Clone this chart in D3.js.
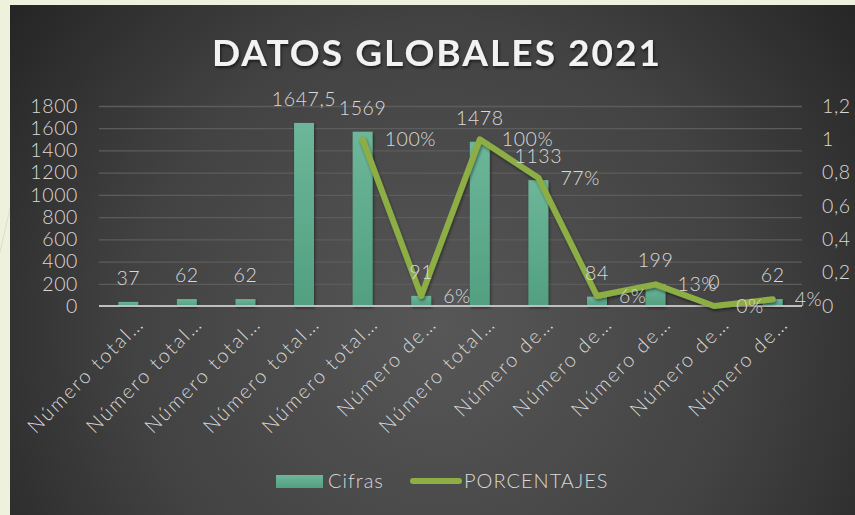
<!DOCTYPE html>
<html>
<head>
<meta charset="utf-8">
<script src="https://cdn.jsdelivr.net/npm/d3@7"></script>
<style>
  html, body { margin: 0; padding: 0; background: #eef2dc; }
  svg { display: block; }
  text { font-family: "Lato", "Open Sans", sans-serif; }
</style>
</head>
<body>
<svg id="chart" width="855" height="515"></svg>
<script>
// ---- data ----
const categories = ["Número total…", "Número total…", "Número total…", "Número total…", "Número total…",
                    "Número de…", "Número total…", "Número de…", "Número de…", "Número de…", "Número de…", "Número de…"];
const cifras = [37, 62, 62, 1647.5, 1569, 91, 1478, 1133, 84, 199, 0, 62];
const porcentajes = [null, null, null, null, 1.00, 0.06, 1.00, 0.77, 0.06, 0.13, 0.00, 0.04];
const leftTicks = [0, 200, 400, 600, 800, 1000, 1200, 1400, 1600, 1800];
const rightTicks = [0, 0.2, 0.4, 0.6, 0.8, 1, 1.2];
const titleText = "DATOS GLOBALES 2021";
const seriesNames = ["Cifras", "PORCENTAJES"];

const svg = d3.select("#chart");
const W = 855, H = 515;
const es = d3.formatLocale({decimal: ",", thousands: "", grouping: [3], currency: ["", "€"]});
const fmtNum = es.format("~r");
const fmtAxisR = es.format("~g");
const fmtPct = d3.format(".0%");

const defs = svg.append("defs");
const bgGrad = defs.append("radialGradient").attr("id", "bg")
  .attr("gradientUnits", "userSpaceOnUse").attr("cx", 440).attr("cy", 330).attr("r", 560);
bgGrad.append("stop").attr("offset", 0).attr("stop-color", "#575757");
bgGrad.append("stop").attr("offset", 0.55).attr("stop-color", "#424242");
bgGrad.append("stop").attr("offset", 1).attr("stop-color", "#222222");
const barGrad = defs.append("linearGradient").attr("id", "barg").attr("x1", 0).attr("y1", 0).attr("x2", 0).attr("y2", 1);
barGrad.append("stop").attr("offset", 0).attr("stop-color", "#6db699");
barGrad.append("stop").attr("offset", 1).attr("stop-color", "#51a081");
const legGrad = defs.append("linearGradient").attr("id", "legg").attr("x1", 0).attr("y1", 0).attr("x2", 0).attr("y2", 1);
legGrad.append("stop").attr("offset", 0).attr("stop-color", "#6db699");
legGrad.append("stop").attr("offset", 1).attr("stop-color", "#51a081");
const sh = defs.append("filter").attr("id", "shadow").attr("x", "-20%").attr("y", "-20%").attr("width", "150%").attr("height", "150%");
sh.append("feDropShadow").attr("dx", 1).attr("dy", 2).attr("stdDeviation", 1.5).attr("flood-color", "#000").attr("flood-opacity", 0.45);
const tsh = defs.append("filter").attr("id", "tshadow").attr("x", "-10%").attr("y", "-20%").attr("width", "120%").attr("height", "150%");
tsh.append("feDropShadow").attr("dx", 1).attr("dy", 2).attr("stdDeviation", 1.5).attr("flood-color", "#000").attr("flood-opacity", 0.6);

// decorative theme line
svg.append("line").attr("x1", 12).attr("y1", 200).attr("x2", 0).attr("y2", 252)
  .attr("stroke", "#d9dfc4").attr("stroke-width", 1);

// panel
svg.append("rect").attr("x", 10).attr("y", 5).attr("width", W - 10).attr("height", H - 5).attr("fill", "url(#bg)");

// title
svg.append("text").attr("x", 436).attr("y", 66).attr("text-anchor", "middle")
  .attr("font-size", 37).attr("font-weight", 700).attr("fill", "#f2f2f2")
  .attr("textLength", 448).attr("lengthAdjust", "spacing")
  .attr("filter", "url(#tshadow)")
  .text(titleText);

// scales
const x = d3.scaleBand().domain(d3.range(categories.length)).range([99, 802]).padding(0);
const yL = d3.scaleLinear().domain([0, 1800]).range([306, 106]);
const yR = d3.scaleLinear().domain([0, 1.2]).range([306, 106]);
const bw = x.bandwidth() * 0.34;
const cx = i => x(i) + x.bandwidth() / 2;

// gridlines
const grid = svg.append("g").attr("transform", "translate(99,0)")
  .call(d3.axisLeft(yL).tickValues(leftTicks.filter(t => t > 0)).tickSize(-703).tickFormat(""));
grid.select(".domain").remove();
grid.selectAll("line").attr("stroke", "#5c5c5c").attr("stroke-width", 1.3);

// left axis labels
const gl = svg.append("g").attr("transform", "translate(99,0)")
  .call(d3.axisLeft(yL).tickValues(leftTicks).tickSize(0).tickPadding(21).tickFormat(d => d));
gl.select(".domain").remove();
gl.selectAll("text").attr("font-size", 19.5).attr("fill", "#d9d9d9").attr("font-family", "Lato, sans-serif")
  .attr("font-weight", 300).attr("letter-spacing", 0.6);

// right axis labels
const gr = svg.append("g").attr("transform", "translate(802,0)")
  .call(d3.axisRight(yR).tickValues(rightTicks).tickSize(0).tickPadding(20).tickFormat(fmtAxisR));
gr.select(".domain").remove();
gr.selectAll("text").attr("font-size", 19.5).attr("fill", "#d9d9d9").attr("font-family", "Lato, sans-serif")
  .attr("font-weight", 300).attr("letter-spacing", 0.6);

// bars
svg.append("g").selectAll("rect").data(cifras).join("rect")
  .attr("x", (d, i) => cx(i) - bw / 2).attr("width", bw)
  .attr("y", d => yL(d)).attr("height", d => yL(0) - yL(d))
  .attr("fill", "url(#barg)").attr("filter", "url(#shadow)");

// baseline
svg.append("line").attr("x1", 99).attr("x2", 802).attr("y1", yL(0)).attr("y2", yL(0))
  .attr("stroke", "#bfbfbf").attr("stroke-width", 2);

// line
const pts = porcentajes.map((v, i) => ({v, i}));
const line = d3.line().defined(d => d.v !== null).x(d => cx(d.i)).y(d => yR(d.v));
svg.append("path").datum(pts).attr("d", line)
  .attr("fill", "none").attr("stroke", "#8dad45").attr("stroke-width", 6)
  .attr("stroke-linejoin", "round").attr("stroke-linecap", "round").attr("filter", "url(#shadow)");

// bar labels
svg.append("g").selectAll("text").data(cifras).join("text")
  .attr("x", (d, i) => cx(i)).attr("y", d => yL(d) - 17)
  .attr("text-anchor", "middle").attr("font-size", 19.5).attr("font-weight", 300).attr("fill", "#d9d9d9")
  .attr("letter-spacing", 0.6)
  .text(d => fmtNum(d));

// pct labels
svg.append("g").selectAll("text").data(pts.filter(d => d.v !== null)).join("text")
  .attr("x", d => cx(d.i) + 22).attr("y", d => yR(d.v)).attr("dy", "0.36em")
  .attr("font-size", 19.5).attr("font-weight", 300).attr("fill", "#d9d9d9")
  .attr("letter-spacing", 0.6)
  .text(d => fmtPct(d.v));

// x labels
svg.append("g").selectAll("text").data(categories).join("text")
  .attr("transform", (d, i) => `translate(${cx(i) + 17},${325}) rotate(-45)`)
  .attr("text-anchor", "end").attr("font-size", 20).attr("font-weight", 300).attr("fill", "#d9d9d9")
  .attr("letter-spacing", 2)
  .text(d => d);

// legend
const lg = svg.append("g");
lg.append("rect").attr("x", 276).attr("y", 475).attr("width", 47).attr("height", 13).attr("fill", "url(#legg)");
lg.append("text").attr("x", 328).attr("y", 481).attr("dy", "0.36em").attr("font-size", 20).attr("font-weight", 300)
  .attr("fill", "#d9d9d9").attr("letter-spacing", 1).text(seriesNames[0]);
lg.append("line").attr("x1", 413).attr("x2", 459).attr("y1", 481).attr("y2", 481)
  .attr("stroke", "#8dad45").attr("stroke-width", 6).attr("stroke-linecap", "round");
lg.append("text").attr("x", 464).attr("y", 481).attr("dy", "0.36em").attr("font-size", 20).attr("font-weight", 300)
  .attr("fill", "#d9d9d9").attr("letter-spacing", 1).text(seriesNames[1]);
</script>
</body>
</html>
